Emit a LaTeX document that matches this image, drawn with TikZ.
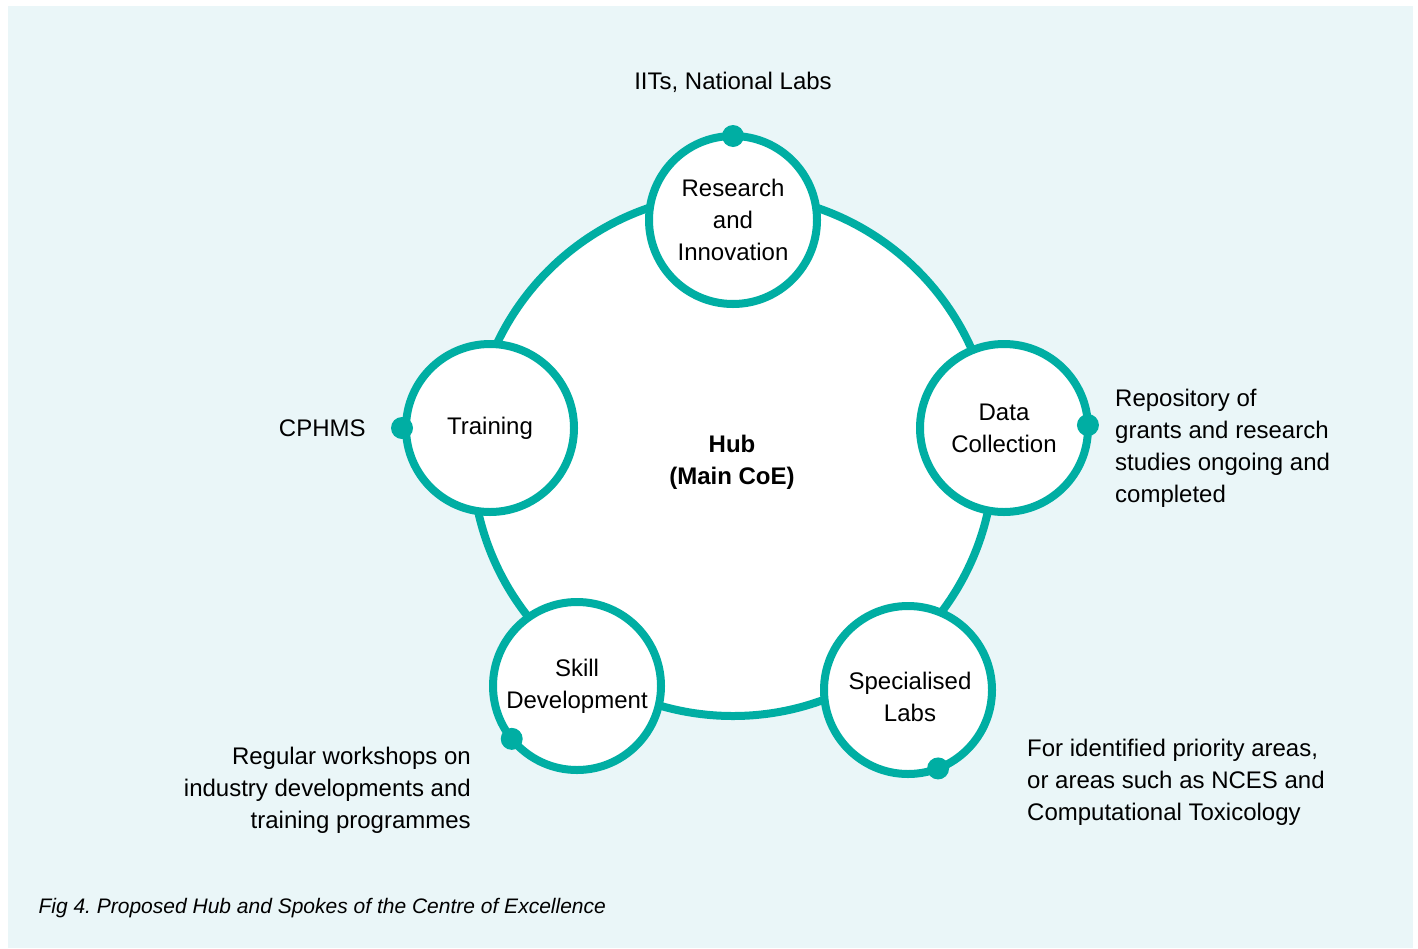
\documentclass[tikz,border=0pt]{standalone}
\usepackage{fontspec}
\setmainfont{Liberation Sans}
\usepackage{tikz}
\usetikzlibrary{positioning}
\definecolor{hubteal}{RGB}{0,174,163}
\definecolor{panelbg}{RGB}{234,246,248}
\frenchspacing

\begin{document}
\begin{tikzpicture}[
  x=1pt, y=-1pt,
  font=\fontsize{24}{32}\selectfont,
  hub/.style={circle, draw=hubteal, line width=8pt, fill=white, minimum size=#1},
  spoke/.style={hub=168pt, align=center, inner sep=0pt, outer sep=0pt},
  pin/.style={circle, fill=hubteal, minimum size=22pt, inner sep=0pt},
  note/.style={inner sep=0pt}
]
\useasboundingbox (0,0) rectangle (1418,948);
\fill[panelbg] (8,6) rectangle (1413,948);

% hub and spokes
\node[hub=522pt] (hub) at (733,455) {};
\node[font=\fontsize{24}{32}\selectfont\bfseries, align=center] (hubtxt) at (732,462) {Hub\\(Main CoE)};
\node[spoke] (res) at (733,220) {Research\\and\\Innovation};
\node[spoke] (train) at (490,428) {Training};
\node[spoke] (data) at (1004,428) {Data\\Collection};
\node[spoke, label={[align=center, yshift=-7pt, xshift=2pt]center:Specialised\\Labs}] (labs) at (908,690) {};
\node[spoke] (skill) at (577,686) {Skill\\Development};

% pins on the spokes
\node[pin] (respin) at (res.90) {};
\node[pin, xshift=-4pt] (trainpin) at (train.180) {};
\node[pin] (datapin) at (data.2) {};
\node[pin] (labspin) at (labs.-69) {};
\node[pin] (skillpin) at (skill.219) {};

% partners
\node[note, above=32pt of respin] (iit) {IITs, National Labs};
\node[note, left=25pt of trainpin] (cphms) {CPHMS};
\node[note, align=left, anchor=west] (repo) at (1115,448)
  {Repository of\\grants and research\\studies ongoing and\\completed};
\node[note, align=left, anchor=west] (prio) at (1027,782)
  {For identified priority areas,\\or areas such as NCES and\\Computational Toxicology};
\node[note, align=right, anchor=east] (work) at (471,790)
  {Regular workshops on\\industry developments and\\training programmes};

\node[anchor=west, font=\fontsize{21}{24}\selectfont\itshape] (cap) at (35,908)
  {Fig 4. Proposed Hub and Spokes of the Centre of Excellence};
\end{tikzpicture}
\end{document}
